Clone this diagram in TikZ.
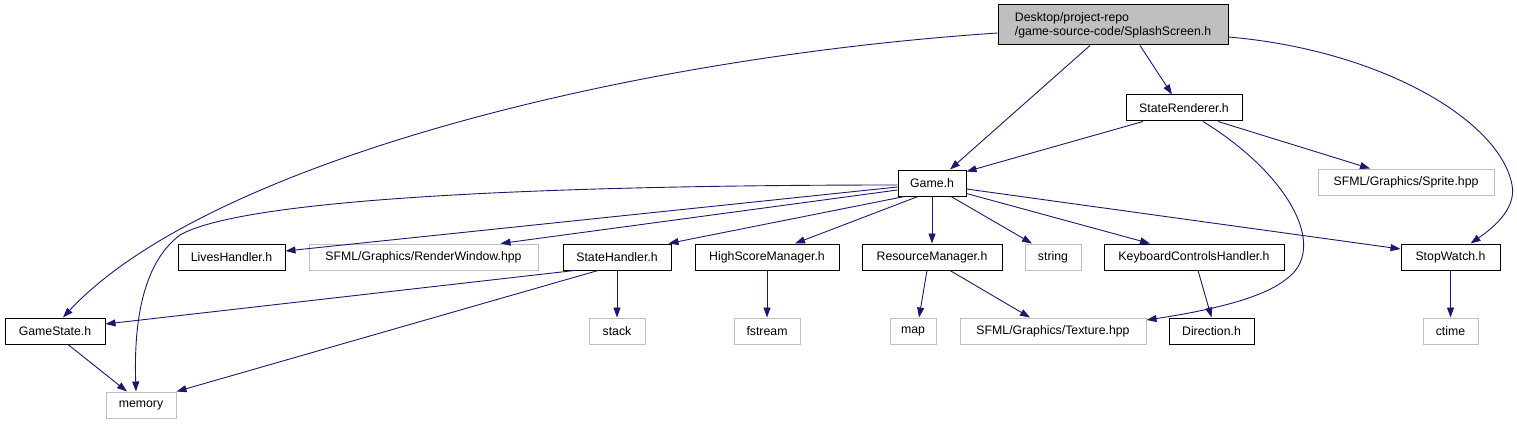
\documentclass[tikz,border=0pt]{standalone}
\usepackage{fontspec}
\setmainfont{Liberation Sans}
\usetikzlibrary{arrows.meta,calc}
\definecolor{edgeblue}{HTML}{191970}
\definecolor{lightgr}{HTML}{BFBFBF}
\begin{document}
\begin{tikzpicture}[x=1pt,y=-1pt,
  font=\fontsize{12.3}{14}\selectfont,
  box/.style={draw=black,line width=1pt,fill=white,inner sep=0pt,minimum height=26pt},
  gbox/.style={draw=lightgr,line width=1pt,fill=white,inner sep=0pt,minimum height=26pt},
  dep/.style={draw=edgeblue,line width=0.9pt,-{Triangle[length=10pt,width=7pt]}}]
\useasboundingbox (0,0) rectangle (1517,425);
% nodes
\node[draw=black,line width=1pt,fill=lightgr,inner sep=0pt,minimum width=230pt,minimum height=40pt,align=left] (splash) at (1113,25) {Desktop/project-repo\\/game-source-code/SplashScreen.h};
\node[box,minimum width=116pt] (srend) at (1184,108) {StateRenderer.h};
\node[box,minimum width=68pt] (game) at (932,183) {Game.h};
\node[gbox,minimum width=176pt] (sprite) at (1406,182) {SFML/Graphics/Sprite.hpp};
\node[box,minimum width=107pt] (lives) at (231.5,257) {LivesHandler.h};
\node[gbox,minimum width=229pt] (rwin) at (423.5,257) {SFML/Graphics/RenderWindow.hpp};
\node[box,minimum width=108pt] (shand) at (617,257) {StateHandler.h};
\node[box,minimum width=144pt] (hsm) at (767,257) {HighScoreManager.h};
\node[box,minimum width=140pt] (rman) at (932,257) {ResourceManager.h};
\node[gbox,minimum width=56pt] (str) at (1053,257) {string};
\node[box,minimum width=180pt] (kbd) at (1194,257) {KeyboardControlsHandler.h};
\node[box,minimum width=99pt] (stopw) at (1450.5,257) {StopWatch.h};
\node[box,minimum width=100pt] (gstate) at (55,331) {GameState.h};
\node[gbox,minimum width=56pt] (stack) at (617,331) {stack};
\node[gbox,minimum width=66pt] (fstr) at (767,331) {fstream};
\node[gbox,minimum width=46pt] (map) at (913,331) {map};
\node[gbox,minimum width=186pt] (tex) at (1053,331) {SFML/Graphics/Texture.hpp};
\node[box,minimum width=85pt] (dir) at (1211.5,331) {Direction.h};
\node[gbox,minimum width=55pt] (ctime) at (1450.5,331) {ctime};
\node[gbox,minimum width=70pt] (mem) at (141,405) {memory};
% edges from splash
\draw[dep] ([yshift=-8pt]splash.west) .. controls (600,60) and (200,170) .. ([xshift=8pt]gstate.north);
\draw[dep] ([xshift=-23pt]splash.south) -- ([xshift=18pt]game.north);
\draw[dep] ([xshift=27pt]splash.south) -- ([xshift=-12pt]srend.north);
\draw[dep] ([yshift=-12pt]splash.east) .. controls (1380,50) and (1500,120) .. (1512,185) .. controls (1517,210) and (1490,230) .. ([xshift=20pt]stopw.north);
% edges from StateRenderer
\draw[dep] ([xshift=-41pt]srend.south) -- ([yshift=-2pt]game.north east);
\draw[dep] ([xshift=34pt]srend.south) -- ([xshift=-36pt]sprite.north);
\draw[dep] ([xshift=19pt]srend.south) .. controls (1290,175) and (1330,250) .. (1285,280) .. controls (1260,300) and (1200,312) .. ([yshift=11pt]tex.east);
% edges from Game
\draw[dep] ([yshift=-2pt]game.west) .. controls (600,185) and (250,195) .. (180,235) .. controls (140,265) and (134,330) .. ([xshift=-5pt]mem.north);
\draw[dep] ([yshift=-4pt]game.west) -- ([yshift=6pt]lives.east);
\draw[dep] ([yshift=-7pt]game.west) -- ([xshift=77pt]rwin.north);
\draw[dep] ([xshift=7pt]game.south west) -- ([xshift=-3pt]shand.north east);
\draw[dep] ([xshift=-14pt]game.south) -- ([xshift=28pt]hsm.north);
\draw[dep] (game.south) -- (rman.north);
\draw[dep] ([xshift=19pt]game.south) -- ([xshift=-21pt]str.north);
\draw[dep] ([yshift=3pt]game.south east) -- ([xshift=-44pt]kbd.north);
\draw[dep] ([yshift=-6pt]game.east) -- ([yshift=8pt]stopw.west);
% edges from StateHandler
\draw[dep] ([xshift=12pt]shand.south west) -- ([yshift=7pt]gstate.east);
\draw[dep] (shand.south) -- (stack.north);
\draw[dep] ([xshift=-19pt]shand.south) -- (mem.north east);
% others
\draw[dep] ([xshift=13pt]gstate.south) -- ([xshift=-14pt]mem.north);
\draw[dep] (hsm.south) -- (fstr.north);
\draw[dep] ([xshift=-5pt]rman.south) -- ([xshift=6pt]map.north);
\draw[dep] ([xshift=18pt]rman.south) -- ([xshift=-23pt]tex.north);
\draw[dep] ([xshift=4pt]kbd.south) -- (dir.north);
\draw[dep] (stopw.south) -- (ctime.north);
\end{tikzpicture}
\end{document}
